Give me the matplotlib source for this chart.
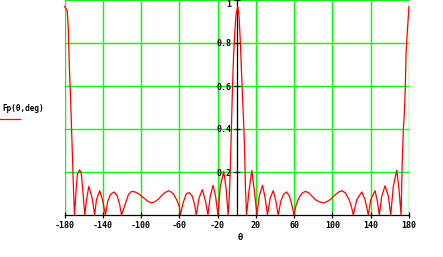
import matplotlib
matplotlib.use("Agg")
import matplotlib.pyplot as plt
from matplotlib.lines import Line2D

# array pattern: angle (deg) and |Fp|
theta = [-180.0, -177.1, -176.0, -175.4, -174.7, -173.7, -172.6, -171.3, -170.3, -169.5,
         -167.8, -166.5, -164.3, -162.5, -161.0, -158.8,
         -157.0, -154.6, -151.1, -148.5,
         -146.6, -143.2, -140.3, -137.2,
         -134.8, -132.0, -128.5, -125.0, -122.3, -120.4,
         -116.7, -113.2, -109.8, -106.2, -102.8, -99.3, -95.8, -92.3, -88.9, -85.4,
         -81.9, -78.5, -74.9, -70.7, -66.3, -62.8, -60.0, -59.0,
         -56.1, -52.7, -49.9, -46.4, -44.0, -42.3,
         -39.4, -36.0, -32.6, -30.1,
         -27.7, -24.8, -22.1, -19.6,
         -17.2, -13.6, -11.0, -9.0,
         -7.6, -6.6, -5.6, -4.4, -3.3, -2.0, -0.8, 1.0, 2.3, 3.6, 4.8, 6.0, 7.1, 8.1, 9.0, 10.2,
         13.0, 15.7, 18.3, 21.1,
         23.5, 26.9, 29.7, 32.1,
         35.0, 38.1, 40.9, 43.3,
         46.1, 48.8, 52.0, 54.8, 57.6, 59.8,
         62.1, 64.9, 68.3, 71.8, 75.3, 78.8, 82.2, 85.8, 91.0, 96.2,
         99.7, 103.1, 106.6, 110.1, 113.5, 117.1, 119.8, 121.8,
         125.4, 130.6, 134.1, 137.5,
         140.0, 144.5, 146.9, 149.0,
         151.5, 155.0, 158.4, 160.9,
         163.6, 167.2, 169.6, 171.7,
         172.4, 173.0, 174.1, 175.1, 176.2, 176.9, 178.2, 179.3, 180.0]
fp = [0.97, 0.95, 0.865, 0.76, 0.66, 0.55, 0.40, 0.22, 0.08, 0.0,
      0.12, 0.19, 0.21, 0.195, 0.12, 0.0,
      0.071, 0.133, 0.079, 0.0,
      0.071, 0.113, 0.071, 0.0,
      0.064, 0.095, 0.107, 0.09, 0.048, 0.0,
      0.048, 0.095, 0.11, 0.107, 0.099, 0.087, 0.074, 0.062, 0.056, 0.062,
      0.074, 0.09, 0.105, 0.113, 0.098, 0.071, 0.04, 0.0,
      0.056, 0.098, 0.105, 0.087, 0.048, 0.0,
      0.079, 0.118, 0.064, 0.0,
      0.087, 0.138, 0.087, 0.0,
      0.133, 0.203, 0.118, 0.0,
      0.10, 0.24, 0.40, 0.60, 0.74, 0.85, 0.93, 0.97, 0.93, 0.82, 0.68, 0.55, 0.44, 0.32, 0.14, 0.0,
      0.118, 0.207, 0.118, 0.0,
      0.087, 0.138, 0.079, 0.0,
      0.079, 0.113, 0.064, 0.0,
      0.064, 0.095, 0.107, 0.09, 0.048, 0.0,
      0.048, 0.079, 0.102, 0.11, 0.102, 0.087, 0.071, 0.062, 0.056, 0.067,
      0.079, 0.095, 0.107, 0.113, 0.102, 0.074, 0.04, 0.0,
      0.071, 0.107, 0.071, 0.0,
      0.071, 0.113, 0.064, 0.0,
      0.087, 0.136, 0.087, 0.0,
      0.133, 0.208, 0.118, 0.0,
      0.15, 0.26, 0.40, 0.47, 0.60, 0.75, 0.85, 0.92, 0.97]

xticks = [-180, -140, -100, -60, -20, 20, 60, 100, 140, 180]
xtick_labels = ["-180", "-140", "-100", "-60", "-20", "20", "60", "100", "140", "180"]
yticks = [0.2, 0.4, 0.6, 0.8, 1.0]
ytick_labels = ["0.2", "0.4", "0.6", "0.8", "1"]

GREEN = "#00ff00"
W, H = 443, 257
fig = plt.figure(figsize=(W / 100, H / 100), dpi=100)
ax = fig.add_axes([64.5 / W, 42 / H, 344.5 / W, 215 / H])

ax.plot(theta, fp, color="red", lw=0.9, zorder=3, clip_on=False)
ax.set_xlim(-180, 180)
ax.set_ylim(0, 1)
ax.set_xticks(xticks)
ax.set_xticklabels(xtick_labels)
ax.set_yticks(yticks)
ax.set_yticklabels(ytick_labels)
ax.grid(True, color=GREEN, lw=1.0)
for gl in ax.get_xgridlines() + ax.get_ygridlines():
    gl.set_clip_on(False)

# axes cross at the origin, Mathcad style
ax.spines["left"].set_position(("data", 0))
ax.spines["bottom"].set_position(("data", 0))
ax.spines["top"].set_visible(False)
ax.spines["right"].set_visible(False)
for s in ("left", "bottom"):
    ax.spines[s].set_color("black")
    ax.spines[s].set_linewidth(0.9)
ax.tick_params(direction="inout", length=5, width=0.9, colors="black", labelsize=6, pad=1.5)
for lbl in ax.get_xticklabels() + ax.get_yticklabels():
    lbl.set_fontfamily("DejaVu Sans Mono")
    lbl.set_fontweight("bold")
# top label would be cut by the figure edge; hang it just below the tick
ax.get_yticklabels()[-1].set_verticalalignment("top")

fig.text(240.5 / W, 1 - 238 / H, "θ", ha="center", va="center", fontsize=6.5,
         family="DejaVu Sans Mono", fontweight="bold")
fig.text(2.5 / W, 1 - 108 / H, "Fp(θ,deg)", ha="left", va="center", fontsize=5.5,
         family="DejaVu Sans Mono", fontweight="bold")
fig.add_artist(Line2D([0, 20 / W], [1 - 118.5 / H] * 2, color="red", lw=0.9))

fig.savefig("out.png", dpi=100)
